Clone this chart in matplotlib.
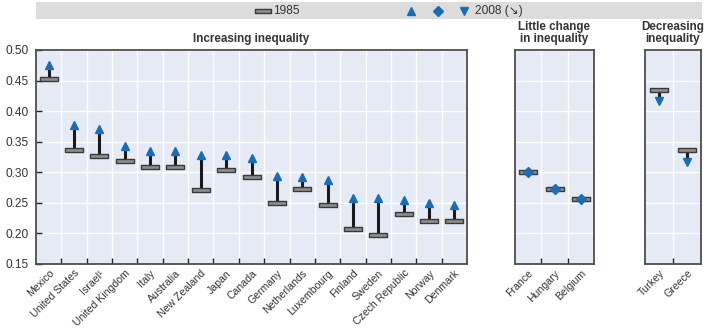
import matplotlib
matplotlib.use("Agg")
import matplotlib.pyplot as plt
from matplotlib.path import Path
import numpy as np

plt.rcParams['font.family'] = ['Liberation Sans Narrow', 'Liberation Sans', 'DejaVu Sans']

# Gini coefficients, mid-1980s and late 2000s
inc_countries = ["Mexico", "United States", "Israel¹", "United Kingdom", "Italy", "Australia",
                 "New Zealand", "Japan", "Canada", "Germany", "Netherlands", "Luxembourg",
                 "Finland", "Sweden", "Czech Republic", "Norway", "Denmark"]
inc_1985 = [0.453, 0.336, 0.326, 0.319, 0.309, 0.309, 0.271, 0.304, 0.293, 0.250, 0.272,
            0.246, 0.208, 0.197, 0.231, 0.221, 0.220]
inc_2008 = [0.475, 0.377, 0.370, 0.343, 0.335, 0.335, 0.329, 0.329, 0.323, 0.294, 0.293,
            0.287, 0.258, 0.258, 0.254, 0.249, 0.247]

flat_countries = ["France", "Hungary", "Belgium"]
flat_1985 = [0.300, 0.273, 0.256]
flat_2008 = [0.300, 0.273, 0.256]

dec_countries = ["Turkey", "Greece"]
dec_1985 = [0.434, 0.336]
dec_2008 = [0.417, 0.317]

yticks = [0.15, 0.20, 0.25, 0.30, 0.35, 0.40, 0.45, 0.50]

legend_labels = ["1985", "2008 (↘)"]

BLUE = "#1a6db3"
BAR_FACE = "#8e8e8e"
BAR_EDGE = "#3a3a3a"
BG = "#e5eaf4"
SPINE = "#4d4d4d"
TXT = "#333333"

# flat rectangle marker for the 1985 level
bar_marker = Path([(-1, -0.24), (1, -0.24), (1, 0.24), (-1, 0.24), (-1, -0.24)],
                  [Path.MOVETO, Path.LINETO, Path.LINETO, Path.LINETO, Path.CLOSEPOLY])

W, H = 709, 331
fig = plt.figure(figsize=(W / 100, H / 100), dpi=100)

top_px, bot_px = 50, 264


def make_ax(x0, x1):
    return fig.add_axes([x0 / W, 1 - bot_px / H, (x1 - x0) / W, (bot_px - top_px) / H])


def style(ax, names, show_y):
    n = len(names)
    ax.set_facecolor(BG)
    ax.set_xlim(-0.5, n - 0.5)
    ax.set_ylim(0.15, 0.50)
    ax.set_yticks(yticks)
    ax.set_xticks(np.arange(n))
    ax.set_xticklabels(names, rotation=45, ha="right", rotation_mode="anchor",
                       fontsize=7.6, color=TXT)
    ax.set_xticks(np.arange(n - 1) + 0.5, minor=True)
    ax.tick_params(axis="x", which="major", length=0, pad=3)
    ax.tick_params(axis="x", which="minor", length=4, width=1, direction="in", color="#222222")
    ax.grid(True, which="minor", axis="x", color="white", lw=1)
    ax.grid(True, which="major", axis="y", color="white", lw=1)
    ax.set_axisbelow(True)
    if show_y:
        ax.set_yticklabels([f"{v:.2f}" for v in yticks], fontsize=8.6, color=TXT)
        ax.tick_params(axis="y", length=4, width=1, direction="in", color="#222222", pad=5)
    else:
        ax.tick_params(axis="y", length=0, labelleft=False)
    for s in ax.spines.values():
        s.set_color(SPINE)
        s.set_linewidth(1.3)


def draw_series(ax, v85, v08, marker):
    x = np.arange(len(v85))
    if marker != "D":
        ax.vlines(x, v85, v08, color="#1a1a1a", lw=2.2, zorder=3)
    ax.plot(x, v85, ls="none", marker=bar_marker, ms=13, mfc=BAR_FACE, mec=BAR_EDGE,
            mew=1.0, zorder=4)
    ax.plot(x, v08, ls="none", marker=marker, ms=6.3 if marker != "D" else 5.5,
            color=BLUE, mec=BLUE, zorder=5)


ax1 = make_ax(36, 467)
style(ax1, inc_countries, True)
draw_series(ax1, inc_1985, inc_2008, "^")

ax2 = make_ax(515, 594)
style(ax2, flat_countries, False)
draw_series(ax2, flat_1985, flat_2008, "D")

ax3 = make_ax(645, 701)
style(ax3, dec_countries, False)
draw_series(ax3, dec_1985, dec_2008, "v")

title_kw = dict(fontsize=8.4, fontweight="bold", color=TXT, ha="center", va="bottom",
                linespacing=1.0)
ax1.text(0.5, 1.025, "Increasing inequality", transform=ax1.transAxes, **title_kw)
ax2.text(0.5, 1.025, "Little change\nin inequality", transform=ax2.transAxes, **title_kw)
ax3.text(0.5, 1.025, "Decreasing\ninequality", transform=ax3.transAxes, **title_kw)

# legend band across the top, laid out in pixel units
band = fig.add_axes([36 / W, 1 - 19 / H, (702 - 36) / W, 17 / H])
band.set_facecolor("#dcdcdc")
band.set_xlim(36, 702)
band.set_ylim(0, 1)
band.set_xticks([])
band.set_yticks([])
for s in band.spines.values():
    s.set_visible(False)

band.plot([263], [0.5], ls="none", marker=bar_marker, ms=11, mfc=BAR_FACE, mec=BAR_EDGE, mew=1.0)
band.text(273, 0.47, legend_labels[0], fontsize=8.6, color=TXT, va="center", ha="left")
for xp, mk, ms in [(411, "^", 6.3), (437.5, "D", 5.5), (464, "v", 6.3)]:
    band.plot([xp], [0.5], ls="none", marker=mk, ms=ms, color=BLUE)
band.text(475, 0.47, legend_labels[1], fontsize=8.6, color=TXT, va="center", ha="left")

fig.savefig("out.png", dpi=100)
